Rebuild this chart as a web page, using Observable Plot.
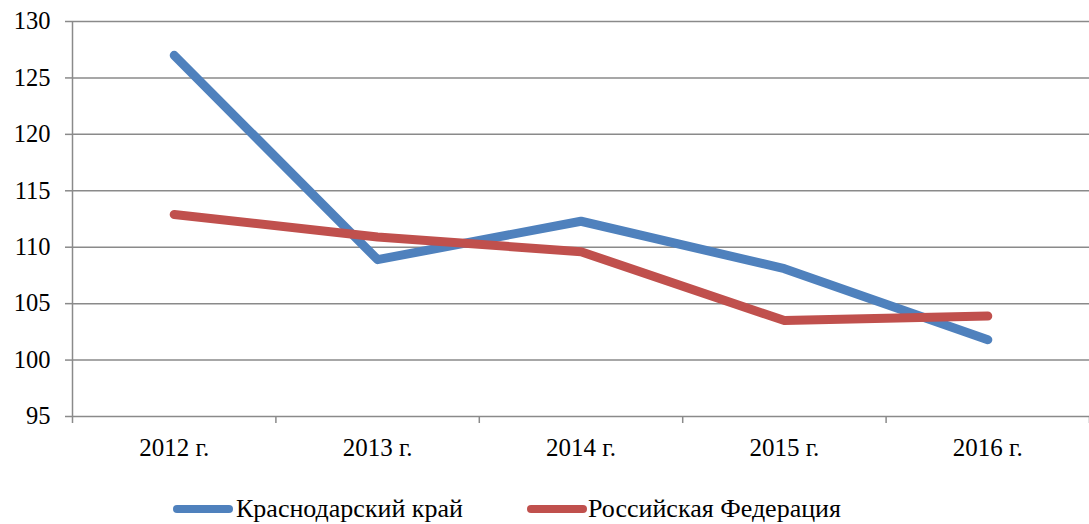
<!DOCTYPE html>
<html>
<head>
<meta charset="utf-8">
<script src="https://cdn.jsdelivr.net/npm/d3@7"></script>
<script src="https://cdn.jsdelivr.net/npm/@observablehq/plot@0.6"></script>
<style>
  body { margin: 0; background: #fff; }
  #chart, #chart * { font-family: "Liberation Serif", "Times New Roman", serif !important; }
  #chart { position: relative; width: 1089px; height: 524px; }
  #legend { position: absolute; top: 0; left: 0; font-size: 26px; color: #000; white-space: nowrap; }
  .sw { position: absolute; height: 8px; border-radius: 4px; }
  .lt { position: absolute; line-height: 27px; }
</style>
</head>
<body>
<div id="chart"><div id="legend"></div></div>
<script>
const years = ["2012 г.", "2013 г.", "2014 г.", "2015 г.", "2016 г."];
const krasnodar = [127.0, 108.9, 112.3, 108.1, 101.8];
const russia = [112.9, 110.9, 109.6, 103.5, 103.9];
const seriesNames = ["Краснодарский край", "Российская Федерация"];
const colors = ["#4F81BD", "#C0504D"];
const yTicks = [95, 100, 105, 110, 115, 120, 125, 130];

const data = [];
years.forEach((y, i) => {
  data.push({i, series: seriesNames[0], value: krasnodar[i]});
  data.push({i, series: seriesNames[1], value: russia[i]});
});

const n = years.length;
const bounds = d3.range(n + 1).map(k => k - 0.5);

const plot = Plot.plot({
  width: 1089,
  height: 470,
  marginLeft: 72,
  marginRight: 0,
  marginTop: 21,
  marginBottom: 54,
  style: {fontFamily: "'Liberation Serif', 'Times New Roman', serif", background: "transparent"},
  x: {type: "linear", domain: [-0.5, n - 0.5]},
  y: {domain: [95, 130]},
  color: {domain: seriesNames, range: colors},
  marks: [
    Plot.ruleY(yTicks, {stroke: "#8a8a8a", strokeWidth: 1.5}),
    Plot.ruleX([-0.5], {stroke: "#8a8a8a", strokeWidth: 1.5}),
    Plot.axisY({ticks: yTicks, tickSize: 7, tickPadding: 15, stroke: "#8a8a8a", strokeWidth: 1.5, fontSize: 24.5, fill: "#000", label: null, tickFormat: d => d}),
    Plot.axisX({ticks: bounds, tickSize: 7, tickFormat: () => "", stroke: "#8a8a8a", strokeWidth: 1.5, label: null}),
    Plot.axisX({ticks: d3.range(n), tickSize: 0, tickPadding: 22, tickFormat: i => years[i], fontSize: 25, fill: "#000", label: null}),
    Plot.line(data, {x: "i", y: "value", z: "series", stroke: "series", strokeWidth: 9, strokeLinecap: "round", strokeLinejoin: "round"})
  ]
});
document.getElementById("chart").prepend(plot);

const legend = document.getElementById("legend");
const swX = [173, 527];
const txtX = [236, 588];
seriesNames.forEach((s, k) => {
  const sw = document.createElement("div");
  sw.className = "sw";
  sw.style.background = colors[k];
  sw.style.left = swX[k] + "px";
  sw.style.width = "60px";
  sw.style.top = "505px";
  const t = document.createElement("span");
  t.className = "lt";
  t.textContent = s;
  t.style.left = txtX[k] + "px";
  t.style.top = "495px";
  legend.append(sw, t);
});
</script>
</body>
</html>
